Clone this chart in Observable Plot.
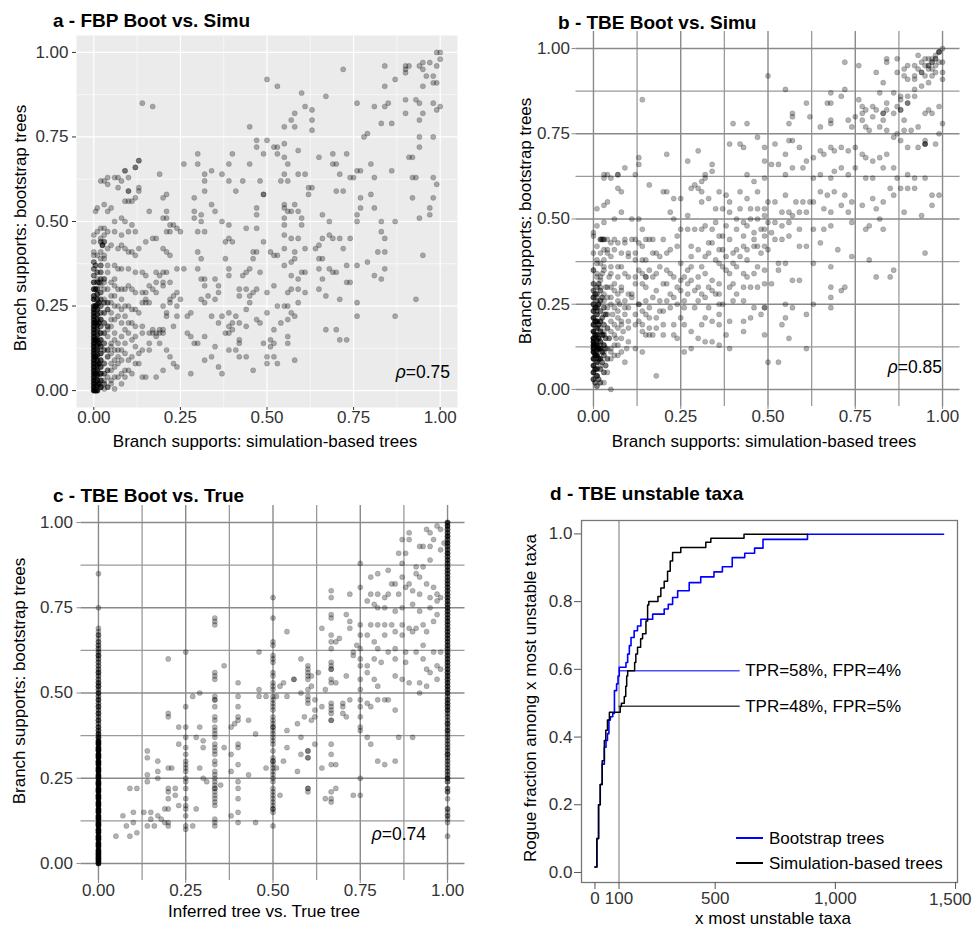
<!DOCTYPE html>
<html><head><meta charset="utf-8">
<script src="https://cdn.jsdelivr.net/npm/d3@7"></script>
<script src="https://cdn.jsdelivr.net/npm/@observablehq/plot@0.6"></script>
<style>
body{margin:0;background:#fff;}
#root{position:relative;width:972px;height:926px;font-family:"Liberation Sans",Arial,Helvetica,sans-serif;color:#000;overflow:hidden;background:#fff}
.abs{position:absolute;white-space:nowrap;line-height:1}
.t{font-weight:bold;font-size:19px;transform:translateY(-50%)}
.lab{font-size:17px;transform:translate(-50%,-50%)}
.rot{font-size:17px;transform:translate(-50%,-50%) rotate(-90deg)}
.rho{font-size:17.5px;transform:translate(-100%,-50%)}
.leg{font-size:17px;transform:translateY(-50%)}
.legline{position:absolute;height:2px;width:27px}
</style></head><body><div id="root">
<div class="abs t" style="left:53px;top:20px">a - FBP Boot vs. Simu</div>
<div class="abs t" style="left:558px;top:22px">b - TBE Boot vs. Simu</div>
<div class="abs t" style="left:53px;top:495px">c - TBE Boot vs. True</div>
<div class="abs t" style="left:550px;top:493px">d - TBE unstable taxa</div>
</div>
<script>
// ---------- DATA ----------
const majorTicks = [0, 0.25, 0.5, 0.75, 1];
const minorTicks = [0.125, 0.375, 0.625, 0.875];

// Panel a: FBP bootstrap (y) vs simulation-based (x), percent pairs
const aSparse = [84,96,90,96,90,95,91,96,94,96,95,97,97,97,99,100,100,100,100,98,99,96,99,91,98,91,96,93,95,95,98,93,95,90,87,92,84,90,72,95,90,94,90,86,90,82,93,86,94,85,95,82,98,85,99,83,100,84,94,80,94,75,94,72,98,75,92,69,91,69,92,63,93,63,98,63,99,61,92,57,98,57,97,54,97,52,94,51,95,40,93,27,87,22,86,65,86,79,83,79,84,84,85,85,81,84,76,85,78,75,79,76,76,65,77,65,75,63,77,57,77,54,80,58,81,54,80,67,81,63,87,50,83,50,83,47,84,45,82,41,84,41,84,36,83,33,81,34,79,38,76,37,76,26,76,22,76,50,76,52,
50,92,53,90,67,87,60,88,61,84,63,83,63,80,63,77,55,78,57,80,58,82,58,78,50,74,52,72,53,72,55,73,49,70,53,70,55,69,59,71,56,67,65,69,69,70,73,70,69,67,70,67,71,64,70,59,72,59,74,63,61,64,59,64,55,64,54,62,56,62,62,60,63,60,62,58,49,58,55,55,55,54,56,53,58,55,59,53,57,53,55,51,60,51,60,49,55,49,55,46,57,45,59,45,61,42,64,42,65,43,66,45,69,45,71,45,72,42,74,45,68,46,68,50,66,52,65,39,66,39,65,36,66,33,68,36,69,35,70,35,73,37,74,32,73,32,71,27,67,28,65,30,67,18,70,18,71,15,73,15,58,41,55,42,53,40,52,40,51,41,58,39,57,38,55,37,57,34,59,33,60,35,61,35,52,31,56,29,57,30,59,30,61,29,59,26,56,25,55,25,53,25,57,23,58,22,56,21,54,20,50,23,50,29,52,18,51,15,52,14,51,13,50,10,52,10,50,8,53,8,56,16,56,14,58,9,49,14,
40,70,39,67,45,78,47,74,47,72,45,67,43,62,48,62,41,59,49,58,47,54,47,52,39,62,37,64,34,65,32,62,32,59,34,55,35,53,32,64,30,67,30,70,26,67,29,57,29,53,31,52,29,51,31,50,37,50,39,49,44,48,47,48,30,47,32,47,38,44,40,44,39,45,46,41,47,41,49,44,46,39,38,39,39,36,39,34,43,34,44,35,45,36,44,30,47,30,48,35,46,29,42,30,30,36,31,33,32,33,32,31,33,28,31,27,32,26,35,33,36,31,36,29,35,27,34,22,37,22,36,20,39,23,40,20,41,22,42,20,44,19,47,21,48,20,45,28,45,26,42,28,44,24,39,19,40,18,39,17,38,17,27,22,28,23,27,17,28,16,29,14,30,14,32,16,32,9,34,10,35,13,39,12,41,12,42,10,44,10,42,15,42,14,46,6,36,7,37,5,28,5,30,41,31,39,
14,85,17,84,13,68,12,66,9,65,13,60,10,59,12,57,10,56,16,53,19,64,21,58,20,57,20,51,21,51,21,53,21,47,22,47,22,49,23,49,24,48,25,47,17,45,18,45,15,44,20,42,21,41,22,40,24,36,26,36,20,35,18,35,19,34,21,35,18,32,20,32,20,31,22,32,16,31,17,30,18,29,15,29,15,27,14,26,15,26,16,26,20,25,22,27,23,28,24,29,22,26,24,25,25,27,21,22,21,23,24,22,23,19,17,18,19,18,20,18,14,17,16,17,17,17,18,17,19,17,20,17,18,16,19,14,16,14,14,12,16,12,21,12,22,10,23,8,24,7,14,4,15,4,18,4,20,6,13,8,
0.5,53,2,62,3,62,4,63,4,61,6,63,7,63,7,60,8,62,9,65,10,63,10,59,9,56,11,56,12,66,13,68,13,59,1,54,3,55,4,53,5,54,2,48,3,48,6,50,8,51,9,50,10,47,11,49,12,47,4,47,6,47,8,46,0,46,2,45,4,42,5,43,7,42,8,43,9,42,10,41,11,41,12,40,13,42,0,40,1,40,2,39,3,39,2,37,4,37,6,37,7,36,8,36,10,36,12,35,14,35,15,34,1,33,2,32,3,32,5,32,6,31,8,30,9,30,10,31,11,30,12,29,14,29,3,27,5,26,6,25,7,25,9,25,11,24,12,24,13,23,5,21,6,21,8,20,10,20,12,19,14,19,4,18,6,15,7,14,9,14,11,15,12,13,13,11,5,11,6,9,7,8,9,6,10,6,2,5,3,3,5,3,8,5,2,1,3,0.5,6,0.5];
// dense spots: x%, y%, overlapping count
const aDense = [0,0,7,0,1,7,0,2,7,0,3,7,0,4,6,0,5,6,0,6,6,0,7,6,0,8,6,0,9,6,0,10,6,0,11,6,0,12,6,0,13,6,0,14,6,0,15,6,0,16,5,0,17,5,0,18,5,0,19,5,0,20,5,0,21,5,0,22,5,0,23,5,0,24,5,0,25,4,0,27,4,0,28,3,0,30,3,0,32,3,0,34,2,0,36,2,0,38,2,0,41,1,0,44,1,
0.5,0,6,0.5,5,6,0.5,10,6,0.5,15,5,0.5,20,5,0.5,25,4,0.5,30,3,0.5,37,2,
1,0,5,1,1.5,5,1,3,5,1,4.5,5,1,6,5,1,7.5,5,1,9,4,1,10.5,4,1,12,5,1,13.5,4,1,15,4,1,16.5,4,1,18,4,1,19.5,4,1,21,4,1,22.5,4,1,24,4,1,25.5,3,1,27,3,1,28.5,3,1,30,2,1,32,2,1,35,2,
1.5,2,4,1.5,8,4,1.5,14,4,1.5,20,3,1.5,26,3,1.5,32,2,
2,1,3,2,3,3,2,5,3,2,7,3,2,9,3,2,11,3,2,13,3,2,15,3,2,17,3,2,19,2,2,21,3,2,23,2,2,25,2,2,27,2,2,29,2,2,31,1,2,33,2,2,35,2,2,37,1,2,41,1,2,44,2,2.5,43,3,
3,2,2,3,5,2,3,8,2,3,12,2,3,14,2,3,17,2,3,20,2,3,23,2,3,26,2,3,30,1,3,33,2,3,44,2,3,40,1,3,46,1,1,47,1,
4,1,2,4,4,1,4,6,2,4,10,2,4,12,2,4,16,1,4,19,2,4,24,2,4,26,2,4,30,1,4,35,1,5,2,1,5,6,1,5,8,1,5,13,1,5,14,1,5,19,1,5,23,1,5,28,1,6,4,1,6,7,1,6,12,1,6,17,1,6,28,1,6,33,1,7,4,1,7,10,1,7,12,1,7,22,1,7,30,1,8,2,1,8,9,1,8,12,1,8,16,1,8,24,1,8,27,1,9,4,1,9,11,1,9,18,1,9,22,1,10,9,1,10,17,1,10,25,1,11,5,1,11,10,1,11,20,1,12,8,1,12,16,1];

// Panel b: TBE bootstrap (y) vs simulation-based (x)
const bSparse = [100,100,99,99,98,98,97,97,96,97,95,97,94,96,93,98,100,96,99,96,98,95,97,94,96,94,95,95,93,94,92,95,90,95,89,94,87,97,84,97,84,96,87,93,89,92,90,91,92,91,95,92,97,92,98,93,100,91,100,93,96,90,94,89,92,88,90,86,88,86,86,87,88,85,87,83,84,82,83,90,81,93,82,87,84,84,86,81,83,79,81,82,80,80,78,82,77,81,77,83,76,85,72,88,71,86,68,84,67,84,68,87,72,96,76,95,61,84,57,81,57,80,56,78,62,80,65,77,68,79,68,78,73,79,74,77,77,79,78,77,79,76,82,77,84,76,87,75,89,76,91,76,93,77,95,81,96,82,97,81,99,83,100,78,99,75,98,72,95,73,93,71,90,71,88,73,86,74,84,69,82,68,80,67,78,68,77,69,75,71,73,70,71,71,69,70,68,71,66,69,65,70,63,68,61,67,59,71,57,73,56,73,55,69,52,72,49,71,49,67,51,66,53,66,55,63,57,65,60,65,63,62,65,63,68,62,69,64,71,65,73,63,75,65,78,62,80,62,83,65,86,65,87,62,90,63,92,62,95,62,88,59,90,59,92,59,97,57,99,57,94,51,97,54,89,52,85,59,86,57,83,55,81,53,80,56,77,54,74,55,72,57,69,58,67,57,65,58,63,55,62,55,60,55,58,55,55,57,52,55,50,55,49,53,54,52,56,52,57,51,59,52,61,52,66,53,68,52,71,54,73,52,79,48,82,50,83,47,78,47,74,49,50,49,52,49,54,48,56,49,59,47,63,47,66,47,68,48,49,47,51,46,52,44,54,44,56,45,59,42,61,42,65,43,50,41,53,37,55,37,53,35,57,32,59,32,63,37,68,36,70,41,74,39,79,38,95,40,81,33,85,33,86,35,68,30,71,29,68,27,72,30,68,24,63,25,55,25,57,24,61,22,55,21,54,19,56,15,61,12,51,31,49,31,49,24,49,16,50,8,53,8,49,35,
14,85,55,88,50,92,40,78,44,78,47,74,39,72,42,72,43,71,30,70,21,69,27,67,34,66,13,66,12,63,9,65,7,63,5,62,3,63,32,63,34,64,32,62,31,61,29,60,28,59,30,59,31,58,33,56,36,58,38,57,39,55,42,53,44,56,45,53,46,61,47,58,49,62,16,60,20,58,21,58,25,56,23,56,22,52,23,50,25,47,27,47,29,47,31,47,32,48,34,47,35,53,37,53,39,52,41,50,43,49,44,48,46,46,47,50,48,47,49,45,37,45,36,45,34,43,36,41,38,39,40,40,41,41,43,42,44,41,46,42,47,42,49,42,28,42,30,41,32,39,33,40,24,42,22,41,21,40,18,40,16,44,17,44,14,47,13,50,11,50,9,44,12,44,10,40,12,40,25,37,27,35,28,36,30,33,32,34,34,32,36,37,37,36,39,34,41,36,43,34,46,34,47,30,45,30,43,30,41,28,39,30,36,28,35,28,33,30,31,28,29,29,27,31,25,32,23,33,21,35,19,36,18,34,16,35,15,33,14,31,20,31,22,28,26,26,26,24,24,25,21,26,19,26,17,27,15,26,13,25,30,26,33,24,36,25,37,25,40,26,43,26,46,24,49,24,48,22,45,21,43,20,39,20,36,19,34,20,31,19,28,17,26,19,23,19,20,19,18,18,16,18,15,16,17,16,20,16,23,16,24,15,26,11,28,12,30,15,32,14,34,14,36,13,39,12,38,16,43,17,18,4,
3,62,4,63,7,63,13,68,1,53,3,54,4,55,7,59,8,58,8,52,6,50,3,49,0,46,5,43,7,43,9,43,11,44,13,43,14,42,15,44,3,41,4,40,6,41,8,40,10,39,12,38,1,37,3,36,5,36,8,36,1,34,2,33,5,34,7,33,9,34,10,33,12,33,14,34,15,33,2,30,4,30,6,29,8,30,10,28,11,27,1,27,3,26,5,25,7,26,9,24,13,25,14,23,15,22,1,23,3,22,4,22,7,21,8,20,10,20,12,19,14,17,16,16,1,20,2,18,3,17,6,16,8,15,10,14,12,12,14,11,0,15,2,13,3,11,5,11,7,10,9,8,1,10,2,7,4,5,5,0,1,4,3,2,
11,28,12,31,13,20,13,35,14,38,15,30,16,24,17,33,18,21,18,29,19,39,20,23,21,31,22,34,23,27,24,30,25,21,26,33,27,28,28,39,29,24,30,30,31,36,32,27,33,43,34,29,35,38,36,31,37,41,38,35,39,44,40,37,41,47,42,39,43,45,44,38,45,50,46,44,47,53,48,40,49,51,15,38,17,40,20,44,24,45,27,51,31,55,35,49,38,48,42,58,44,63,12,22,14,19,16,21,19,23,22,24,25,29,28,32,32,21,36,22,40,31,44,33,47,36];
const bDense = [0,3,3,0,5,4,0,7,4,0,9,5,0,11,6,0,12,6,0,13,6,0,14,6,0,15,5,0,17,5,0,19,4,0,21,4,0,23,3,0,25,3,0,27,3,0,29,2,0,31,2,0,35,2,0,40,1,0,45,1,
0.5,2,2,0.5,6,3,0.5,10,5,0.5,13,5,0.5,16,4,0.5,20,3,0.5,24,3,0.5,28,2,
1,1,2,1,4,3,1,6,3,1,8,4,1,10,5,1,11.5,5,1,13,5,1,14.5,4,1,16,4,1,18,4,1,20,3,1,22,3,1,24,3,1,26,2,1,28,2,1,30,2,1,33,1,1,38,1,1,42,1,
1.5,3,2,1.5,9,4,1.5,12,5,1.5,15,4,1.5,19,3,1.5,25,3,1.5,31,2,
2,2,2,2,6,2,2,9,3,2,12,4,2,14,3,2,17,3,2,20,3,2,23,2,2,26,2,2,29,2,2,32,1,2,44,2,2,40,1,2,37,1,
2.5,8,2,2.5,11,3,2.5,16,3,2.5,21,2,2.5,27,2,2.5,34,1,2.5,44,2,
3,5,2,3,10,2,3,13,3,3,16,2,3,19,2,3,24,2,3,28,1,3,35,1,3,44,2,3,38,1,
3.5,7,2,3.5,12,2,3.5,15,2,3.5,22,2,3.5,30,1,4,9,2,4,12,1,4,18,2,4,24,1,4,27,1,4,41,1,4,44,1,
4.5,15,2,4.5,33,1,5,9,1,5,12,1,5,17,1,5,20,1,5,27,1,5,30,1,5,39,1,5.5,22,1,6,10,1,6,13,1,6,19,1,6,24,1,6,31,1,6,44,1,6.5,15,1,
7,13,1,7,18,1,7,23,1,7,28,1,7,36,1,7.5,25,1,8,11,1,8,19,1,8,29,1,8.5,17,1,9,22,1,9,26,1,9.5,12,1,10,18,1,10,24,1,1,48,1,
99,99,2,98,97,2,97,96,2,96,95,2,94,93,2,92,92,1,88,82,2,89,79,1,83,81,2,95,72,3,90,84,2,92,86,1,80,83,1,75,80,1];

// Panel c: TBE bootstrap (y) vs inferred-vs-true (x)
const cSparse = [94,98,97,99,98,98,95,97,89,97,87,95,89,95,86,91,88,91,96,95,93,93,95,93,92,93,95,89,98,92,99,94,93,87,91,87,87,88,83,86,80,85,78,84,77,77,78,79,80,79,82,78,84,82,85,82,87,84,89,82,91,85,92,84,94,82,96,81,97,79,98,78,97,77,95,78,92,79,90,80,88,81,86,79,83,79,82,75,80,75,79,76,85,74,87,75,90,76,92,74,95,75,97,73,96,71,93,70,91,69,89,69,87,70,84,70,82,70,80,70,78,70,77,67,79,65,82,67,85,68,87,67,90,68,94,68,93,64,96,62,98,62,93,60,91,62,88,62,85,63,83,62,80,63,79,60,81,59,85,60,88,59,94,57,95,56,97,58,98,57,97,54,94,52,92,53,92,50,89,53,87,54,85,55,83,48,82,48,80,48,78,46,77,47,79,54,80,52,77,56,77,58,85,45,86,37,90,37,77,37,78,35,80,30,82,29,85,30,
54,68,64,69,69,66,68,65,71,73,72,71,72,69,73,62,73,61,74,64,72,79,68,53,71,55,65,51,63,56,61,55,60,57,61,52,58,60,56,54,58,50,60,48,62,48,64,46,53,53,52,52,54,49,51,49,56,54,70,46,70,44,71,43,70,47,72,48,59,43,57,41,58,37,61,42,62,43,62,45,54,39,54,34,53,30,51,28,57,27,58,32,60,33,60,31,62,35,64,28,68,29,65,19,60,22,73,20,68,22,52,20,
5,8,7,14,9,22,8,11,9,8,10,15,10,12,11,22,11,9,13,15,14,26,14,33,14,31,15,15,14,24,15,13,17,27,17,25,17,14,18,13,14,11,16,11,17,30,19,16,19,12,21,28,22,22,22,20,23,17,23,40,23,35,27,11,28,16,28,37,27,49,29,50,29,40,29,28,30,36,30,34,30,25,31,24,36,58,36,34,35,23,38,32,38,27,38,14,38,40,39,41,43,42,43,26,45,12,45,38,46,62,46,49,46,51,48,49,48,28];
// vertical columns at fractional values: [x, y% list]
const cColX = [0.2, 0.25, 1/3, 0.4, 0.5, 0.6, 2/3, 0.75];
const cColY = [
  [60,44,43,28,22,21,19,16,12,11],
  [62,46,40,37,34,32,30,29,28,27,25,24,22,19,17,16,14,11,10],
  [72,71,70,56,55,54,49,48,48,46,43,42,40,39,38,37,35,34,33,32,30,29,27,26,25,24,23,22,22,21,20,19,18,17,13,12,11],
  [53,49,46,43,42,35,34,29,24,22,19,15,12],
  [78,72,65,64,61,60,59,56,55,53,52,51,49,48,47,46,45,43,42,41,40,40,39,38,37,36,35,33,31,30,30,29,28,27,26,25,24,22,21,20,19,18,17,16,16,15,11],
  [58,56,55,54,51,49,47,33,31,22,21],
  [80,78,73,72,67,65,63,59,58,57,57,54,53,47,46,45,44,42,42,35,32,29,21,19,18],
  [88,81,70,67,63,60,58,54,51,48,46,43,40,39,25,20]
];
// x = 0 column: y%, count
const cCol0 = [0,6,0.5,8,1,8,1.5,8,2,8,2.5,8,3,8,3.5,8,4,8,5,8,5.5,8,6,8,7,8,7.5,8,8,8,9,8,9.5,8,10,8,11,8,11.5,8,12,8,13,8,13.5,8,14,8,15,8,15.5,8,16,8,17,8,17.5,8,18,8,19,8,19.5,8,20,8,21,8,21.5,8,22,8,23,8,23.5,8,24,8,25,8,25.5,8,26,8,27,8,27.5,8,28,8,29,8,29.5,8,30,8,31,7,31.5,7,32,7,33,7,33.5,7,34,7,35,6,35.5,6,36,5,37,5,38,4,39,3,40,3,41,2,42,3,43,2,44,3,45,2,46,3,47,2,48,3,49,2,50,3,51,2,52,3,53,3,54,2,55,2,56,3,57,2,58,2,59,2,60,2,61,3,62,2,63,2,64,2,65,2,66,1,67,2,68,1,69,1,75,1,85,1];
// x = 1 column: y%, count
const cCol1 = [8,1,12,1,13,1,14,2,15,1,16,2,19,1,21,2,22,2,24,2,25,3,26,2,27,2,28,2,29,2,30,2,31,2,32,3,33,2,34,2,35,2,36,2,37,2,38,2,39,3,40,2,41,3,42,2,43,2,44,2,45,3,46,3,47,3,48,3,49,2,50,3,51,3,52,3,53,3,54,3,55,3,56,3,57,3,58,3,59,3,60,3,61,3,62,3,63,3,64,3,65,3,66,3,67,3,68,3,69,3,70,3,71,3,72,3,73,3,74,3,75,3,76,3,77,3,78,3,79,3,80,3,81,3,82,3,83,3,84,3,85,3,86,3,87,3,88,3,89,3,90,3,91,4,92,3,93,3,94,4,95,3,96,4,97,3,98,3,99,4,100,4];

// Panel d: rogue fraction step curves
const bootX = [0,8,15,22,30,39,46,52,58,64,74,81,90,96,101,129,136,143,150,163,177,191,240,288,305,323,344,392,440,495,530,571,623,664,699,884,1450];
const bootY = [0.016,0.1,0.2,0.26,0.32,0.37,0.39,0.41,0.45,0.46,0.47,0.537,0.557,0.58,0.606,0.62,0.645,0.67,0.694,0.714,0.728,0.748,0.763,0.778,0.792,0.812,0.832,0.856,0.873,0.888,0.903,0.93,0.943,0.958,0.984,0.999,0.999];
const simuX = [0,8,15,22,30,39,45,52,60,105,110,122,128,132,136,165,170,177,190,198,212,219,224,262,274,288,302,313,323,357,461,482,620,884];
const simuY = [0.016,0.1,0.2,0.26,0.33,0.39,0.42,0.45,0.473,0.49,0.5,0.52,0.55,0.58,0.596,0.62,0.645,0.665,0.69,0.705,0.743,0.79,0.8,0.815,0.84,0.86,0.89,0.92,0.945,0.96,0.975,0.987,0.999,0.999];
const refCut = [100];
const refEnd = 604;
const refY = [0.596, 0.491];
const refLabels = ["TPR=58%, FPR=4%", "TPR=48%, FPR=5%"];
const refColors = ["#4f4fff", "#444"];
const dTicks = [0, 100, 500, 1000, 1500];
const dYTicks = [0, 0.2, 0.4, 0.6, 0.8, 1.0];
const legendLabels = ["Bootstrap trees", "Simulation-based trees"];
const legendColors = ["#0000ff", "#000"];
const rhoA = "0.75", rhoB = "0.85", rhoC = "0.74";

// ---------- BUILD ----------
const FONT = '"Liberation Sans", Arial, Helvetica, sans-serif';
const root = document.getElementById("root");
const fmt2 = d => d.toFixed(2);
const fmtD = d3.format(",");

function fromPairs(flat){ const o=[]; for(let i=0;i<flat.length;i+=2) o.push({x:flat[i]/100,y:flat[i+1]/100,n:1}); return o; }
function fromTriples(flat){ const o=[]; for(let i=0;i<flat.length;i+=3) o.push({x:flat[i]/100,y:flat[i+1]/100,n:flat[i+2]}); return o; }
function fromColumn(x, flat){ const o=[]; for(let i=0;i<flat.length;i+=2) o.push({x,y:flat[i]/100,n:flat[i+1]}); return o; }

const dataA = fromPairs(aSparse).concat(fromTriples(aDense));
const dataB = fromPairs(bSparse).concat(fromTriples(bDense));
let dataC = fromPairs(cSparse).concat(fromColumn(0, cCol0), fromColumn(1, cCol1));
cColX.forEach((x,i)=>{ cColY[i].forEach(y=>dataC.push({x,y:y/100,n:1})); });

function dots(data){
  return Plot.dot(data, {x:"x", y:"y", r:2.6, fill:"#000", fillOpacity:d=>1-Math.pow(0.7,d.n), stroke:"#000", strokeOpacity:d=>Math.min(0.6,0.2*d.n), strokeWidth:0.7});
}
function put(el, left, top){ el.style.position="absolute"; el.style.left=left+"px"; el.style.top=top+"px"; root.appendChild(el); }
function addDiv(cls, html, left, top){ const d=document.createElement("div"); d.className="abs "+cls; d.innerHTML=html; d.style.left=left+"px"; d.style.top=top+"px"; root.appendChild(d); }

const baseStyle = {fontFamily:FONT, background:"transparent", overflow:"visible"};

// Panel a
const plotA = Plot.plot({
  width:480, height:440, marginLeft:76, marginRight:23, marginTop:35, marginBottom:33,
  x:{domain:[-0.05,1.05]}, y:{domain:[-0.05,1.05]}, style:baseStyle,
  marks:[
    Plot.frame({fill:"#EBEBEB", stroke:"none"}),
    Plot.ruleX(minorTicks,{stroke:"#fff", strokeWidth:0.6}),
    Plot.ruleY(minorTicks,{stroke:"#fff", strokeWidth:0.6}),
    Plot.ruleX(majorTicks,{stroke:"#fff", strokeWidth:1.2}),
    Plot.ruleY(majorTicks,{stroke:"#fff", strokeWidth:1.2}),
    dots(dataA),
    Plot.axisX({ticks:majorTicks, tickFormat:fmt2, tickSize:3, tickPadding:0, fontSize:17, stroke:"#333", fill:"#333", label:null}),
    Plot.axisY({ticks:majorTicks, tickFormat:fmt2, tickSize:4, tickPadding:4, fontSize:17, stroke:"#333", fill:"#333", label:null})
  ]
});
put(plotA, 0, 0);

function gridPanel(data, w, h, ml, mr, mt, mb, yl){
  return Plot.plot({
    width:w, height:h, marginLeft:ml, marginRight:mr, marginTop:mt, marginBottom:mb,
    x:{domain:[-0.05,1.05]}, y:{domain:[-0.05,1.05]}, style:baseStyle,
    marks:[
      Plot.ruleX(minorTicks,{stroke:"#9a9a9a", strokeWidth:1.3}),
      Plot.ruleY(minorTicks,{stroke:"#9a9a9a", strokeWidth:1.3}),
      Plot.ruleX(majorTicks,{stroke:"#8a8a8a", strokeWidth:1.4}),
      Plot.ruleY(majorTicks,{stroke:"#8a8a8a", strokeWidth:1.4}),
      dots(data),
      Plot.axisX({ticks:majorTicks, tickFormat:fmt2, tickSize:3, tickPadding:0, fontSize:17, stroke:"#8a8a8a", fill:"#333", label:null}),
      Plot.axisY({ticks:majorTicks, tickFormat:fmt2, tickSize:4, tickPadding:yl, fontSize:17, stroke:"#8a8a8a", fill:"#333", label:null})
    ]
  });
}
put(gridPanel(dataB, 482, 440, 85.5, 12.5, 31, 34, 2), 490, 0);
put(gridPanel(dataC, 480, 466, 80.5, 15.5, 45, 46, 4), 0, 460);

// Panel d
const boot = bootX.map((x,i)=>({x, y:bootY[i]}));
const simu = simuX.map((x,i)=>({x, y:simuY[i]}));
const refs = refY.map((y,i)=>({y, x1:refCut[0], x2:refEnd, label:refLabels[i], c:refColors[i]}));
const lastTick = dTicks[dTicks.length-1];
const plotD = Plot.plot({
  width:482, height:466, marginLeft:91, marginRight:15, marginTop:60, marginBottom:44,
  x:{domain:[-56,1508]}, y:{domain:[-0.0296,1.0396]}, style:baseStyle,
  marks:[
    Plot.ruleX(refCut,{stroke:"#777", strokeWidth:1}),
    Plot.ruleY(refs,{y:"y", x1:"x1", x2:"x2", stroke:d=>d.c, strokeWidth:1.5}),
    Plot.line(boot,{x:"x", y:"y", curve:"step-after", stroke:legendColors[0], strokeWidth:1.6}),
    Plot.line(simu,{x:"x", y:"y", curve:"step-after", stroke:legendColors[1], strokeWidth:1.5}),
    Plot.text(refs,{x:"x2", y:"y", text:"label", textAnchor:"start", dx:5, fontSize:17, fill:"#000"}),
    Plot.frame({stroke:"#777", strokeWidth:1.3}),
    Plot.axisX({ticks:dTicks, tickFormat:d=>d===lastTick?"":fmtD(d), tickSize:7, tickPadding:2, fontSize:17, stroke:"#555", fill:"#333", label:null}),
    Plot.text([lastTick],{x:d=>d, text:d=>fmtD(d), frameAnchor:"bottom", textAnchor:"end", dx:16, dy:17, lineAnchor:"middle", fontSize:17, fill:"#333"}),
    Plot.axisY({ticks:dYTicks, tickFormat:d=>d.toFixed(1), tickSize:7, tickPadding:2, fontSize:17, stroke:"#555", fill:"#333", label:null})
  ]
});
put(plotD, 490, 460);

// axis titles and annotations
addDiv("rot", "Branch supports: bootstrap trees", 20, 228);
addDiv("rot", "Branch supports: bootstrap trees", 525, 221);
addDiv("rot", "Branch supports: bootstrap trees", 19, 681);
addDiv("rot", "Rogue fraction among x most unstable taxa", 530, 698);
addDiv("lab", "Branch supports: simulation-based trees", 265, 441);
addDiv("lab", "Branch supports: simulation-based trees", 764, 441);
addDiv("lab", "Inferred tree vs. True tree", 264, 911);
addDiv("lab", "x most unstable taxa", 773, 918);
addDiv("rho", "<i>ρ</i>=" + rhoA, 450, 373);
addDiv("rho", "<i>ρ</i>=" + rhoB, 942, 368);
addDiv("rho", "<i>ρ</i>=" + rhoC, 426, 835);
legendLabels.forEach((t,i)=>{
  const ly = 838 + i*25;
  const ln = document.createElement("div"); ln.className="legline"; ln.style.background=legendColors[i];
  ln.style.left="736px"; ln.style.top=(ly-1)+"px"; root.appendChild(ln);
  addDiv("leg", t, 769, ly);
});
</script></body></html>
